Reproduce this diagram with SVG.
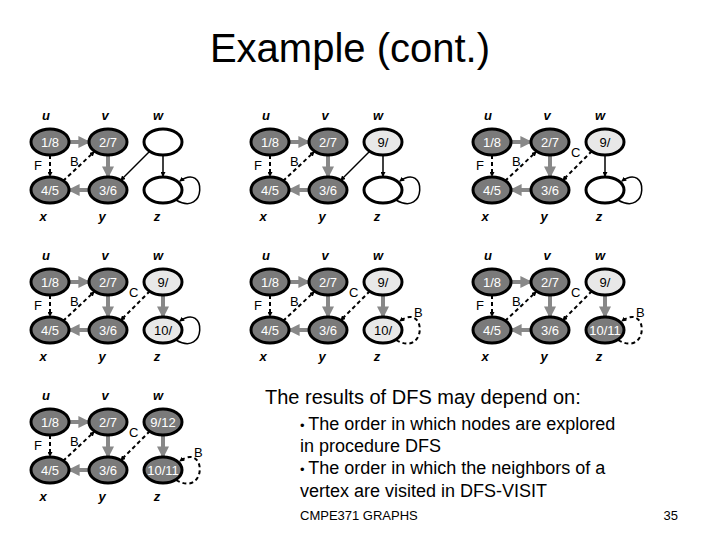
<svg xmlns="http://www.w3.org/2000/svg" width="720" height="540" viewBox="0 0 720 540">
<style>
.n{stroke:#000;stroke-width:3}
.d{fill:#7a7a7a}.l{fill:#e8e8e8}.e{fill:#fff}
.t{font-family:"Liberation Sans",Arial,sans-serif;font-size:13px;text-anchor:middle}
.tw{fill:#fff}.tb{fill:#000}
.vl{font-family:"Liberation Sans",Arial,sans-serif;font-size:13px;font-style:italic;font-weight:bold;text-anchor:middle}
.el{font-family:"Liberation Sans",Arial,sans-serif;font-size:13px}
.g{stroke:#888;stroke-width:4;fill:none;marker-end:url(#ag)}
.k{stroke:#000;stroke-width:1.5;fill:none;marker-end:url(#ak)}
.ds{stroke:#000;stroke-width:2;stroke-dasharray:4,3;fill:none;marker-end:url(#ak)}
</style>
<defs>
<marker id="ag" viewBox="0 0 10 10" refX="8" refY="5" markerWidth="3" markerHeight="3" orient="auto"><path d="M0,0L10,5L0,10z" fill="#888"/></marker>
<marker id="ak" viewBox="0 0 10 10" refX="8" refY="5" markerWidth="5" markerHeight="5" orient="auto" markerUnits="userSpaceOnUse"><path d="M0,0L10,5L0,10z" fill="#000"/></marker>
</defs>
<rect width="720" height="540" fill="#fff"/>
<text x="350" y="62" font-family="Liberation Sans,Arial,sans-serif" font-size="40" text-anchor="middle">Example (cont.)</text>

<g id="panel1">
<g id="p1-edges">
<line class="g" x1="69" y1="142" x2="88" y2="142"/>
<line class="g" x1="108" y1="155" x2="108" y2="176"/>
<line class="g" x1="89" y1="190" x2="70" y2="190"/>
<line class="ds" x1="50" y1="155" x2="50" y2="176"/><text class="el" x="34" y="170">F</text>
<line class="ds" x1="63" y1="181" x2="94" y2="152"/><text class="el" x="70" y="166">B</text>
<line class="k" x1="150" y1="151" x2="121" y2="180"/>
<line class="k" x1="163" y1="155" x2="163" y2="176"/>
<path class="k" d="M176,200 C207,218 207,162 180,181"/>
</g>
<g id="p1-u"><ellipse class="n d" cx="50" cy="142" rx="19" ry="13"/><text class="t tw" x="50" y="147">1/8</text><text class="vl" x="46" y="120">u</text></g>
<g id="p1-v"><ellipse class="n d" cx="108" cy="142" rx="19" ry="13"/><text class="t tw" x="108" y="147">2/7</text><text class="vl" x="105" y="120">v</text></g>
<g id="p1-w"><ellipse class="n e" cx="163" cy="142" rx="19" ry="13"/><text class="vl" x="158" y="120">w</text></g>
<g id="p1-x"><ellipse class="n d" cx="50" cy="190" rx="19" ry="13"/><text class="t tw" x="50" y="195">4/5</text><text class="vl" x="43" y="221">x</text></g>
<g id="p1-y"><ellipse class="n d" cx="108" cy="190" rx="19" ry="13"/><text class="t tw" x="108" y="195">3/6</text><text class="vl" x="102" y="221">y</text></g>
<g id="p1-z"><ellipse class="n e" cx="163" cy="190" rx="19" ry="13"/><text class="vl" x="157" y="221">z</text></g>
</g>

<g id="panel2" transform="translate(220,0)">
<g id="p2-edges">
<line class="g" x1="69" y1="142" x2="88" y2="142"/>
<line class="g" x1="108" y1="155" x2="108" y2="176"/>
<line class="g" x1="89" y1="190" x2="70" y2="190"/>
<line class="ds" x1="50" y1="155" x2="50" y2="176"/><text class="el" x="34" y="170">F</text>
<line class="ds" x1="63" y1="181" x2="94" y2="152"/><text class="el" x="70" y="166">B</text>
<line class="k" x1="150" y1="151" x2="121" y2="180"/>
<line class="k" x1="163" y1="155" x2="163" y2="176"/>
<path class="k" d="M176,200 C207,218 207,162 180,181"/>
</g>
<g id="p2-u"><ellipse class="n d" cx="50" cy="142" rx="19" ry="13"/><text class="t tw" x="50" y="147">1/8</text><text class="vl" x="46" y="120">u</text></g>
<g id="p2-v"><ellipse class="n d" cx="108" cy="142" rx="19" ry="13"/><text class="t tw" x="108" y="147">2/7</text><text class="vl" x="105" y="120">v</text></g>
<g id="p2-w"><ellipse class="n l" cx="163" cy="142" rx="19" ry="13"/><text class="t tb" x="163" y="147">9/</text><text class="vl" x="158" y="120">w</text></g>
<g id="p2-x"><ellipse class="n d" cx="50" cy="190" rx="19" ry="13"/><text class="t tw" x="50" y="195">4/5</text><text class="vl" x="43" y="221">x</text></g>
<g id="p2-y"><ellipse class="n d" cx="108" cy="190" rx="19" ry="13"/><text class="t tw" x="108" y="195">3/6</text><text class="vl" x="102" y="221">y</text></g>
<g id="p2-z"><ellipse class="n e" cx="163" cy="190" rx="19" ry="13"/><text class="vl" x="157" y="221">z</text></g>
</g>

<g id="panel3" transform="translate(442,0)">
<g id="p3-edges">
<line class="g" x1="69" y1="142" x2="88" y2="142"/>
<line class="g" x1="108" y1="155" x2="108" y2="176"/>
<line class="g" x1="89" y1="190" x2="70" y2="190"/>
<line class="ds" x1="50" y1="155" x2="50" y2="176"/><text class="el" x="34" y="170">F</text>
<line class="ds" x1="63" y1="181" x2="94" y2="152"/><text class="el" x="70" y="166">B</text>
<line class="ds" x1="150" y1="151" x2="121" y2="180"/><text class="el" x="129" y="157">C</text>
<line class="k" x1="163" y1="155" x2="163" y2="176"/>
<path class="k" d="M176,200 C207,218 207,162 180,181"/>
</g>
<g id="p3-u"><ellipse class="n d" cx="50" cy="142" rx="19" ry="13"/><text class="t tw" x="50" y="147">1/8</text><text class="vl" x="46" y="120">u</text></g>
<g id="p3-v"><ellipse class="n d" cx="108" cy="142" rx="19" ry="13"/><text class="t tw" x="108" y="147">2/7</text><text class="vl" x="105" y="120">v</text></g>
<g id="p3-w"><ellipse class="n l" cx="163" cy="142" rx="19" ry="13"/><text class="t tb" x="163" y="147">9/</text><text class="vl" x="158" y="120">w</text></g>
<g id="p3-x"><ellipse class="n d" cx="50" cy="190" rx="19" ry="13"/><text class="t tw" x="50" y="195">4/5</text><text class="vl" x="43" y="221">x</text></g>
<g id="p3-y"><ellipse class="n d" cx="108" cy="190" rx="19" ry="13"/><text class="t tw" x="108" y="195">3/6</text><text class="vl" x="102" y="221">y</text></g>
<g id="p3-z"><ellipse class="n e" cx="163" cy="190" rx="19" ry="13"/><text class="vl" x="157" y="221">z</text></g>
</g>

<g id="panel4" transform="translate(0,140)">
<g id="p4-edges">
<line class="g" x1="69" y1="142" x2="88" y2="142"/>
<line class="g" x1="108" y1="155" x2="108" y2="176"/>
<line class="g" x1="89" y1="190" x2="70" y2="190"/>
<line class="ds" x1="50" y1="155" x2="50" y2="176"/><text class="el" x="34" y="170">F</text>
<line class="ds" x1="63" y1="181" x2="94" y2="152"/><text class="el" x="70" y="166">B</text>
<line class="ds" x1="150" y1="151" x2="121" y2="180"/><text class="el" x="129" y="157">C</text>
<line class="g" x1="163" y1="155" x2="163" y2="176"/>
<path class="k" d="M176,200 C207,218 207,162 180,181"/>
</g>
<g id="p4-u"><ellipse class="n d" cx="50" cy="142" rx="19" ry="13"/><text class="t tw" x="50" y="147">1/8</text><text class="vl" x="46" y="120">u</text></g>
<g id="p4-v"><ellipse class="n d" cx="108" cy="142" rx="19" ry="13"/><text class="t tw" x="108" y="147">2/7</text><text class="vl" x="105" y="120">v</text></g>
<g id="p4-w"><ellipse class="n l" cx="163" cy="142" rx="19" ry="13"/><text class="t tb" x="163" y="147">9/</text><text class="vl" x="158" y="120">w</text></g>
<g id="p4-x"><ellipse class="n d" cx="50" cy="190" rx="19" ry="13"/><text class="t tw" x="50" y="195">4/5</text><text class="vl" x="43" y="221">x</text></g>
<g id="p4-y"><ellipse class="n d" cx="108" cy="190" rx="19" ry="13"/><text class="t tw" x="108" y="195">3/6</text><text class="vl" x="102" y="221">y</text></g>
<g id="p4-z"><ellipse class="n l" cx="163" cy="190" rx="19" ry="13"/><text class="t tb" x="163" y="195">10/</text><text class="vl" x="157" y="221">z</text></g>
</g>

<g id="panel5" transform="translate(220,140)">
<g id="p5-edges">
<line class="g" x1="69" y1="142" x2="88" y2="142"/>
<line class="g" x1="108" y1="155" x2="108" y2="176"/>
<line class="g" x1="89" y1="190" x2="70" y2="190"/>
<line class="ds" x1="50" y1="155" x2="50" y2="176"/><text class="el" x="34" y="170">F</text>
<line class="ds" x1="63" y1="181" x2="94" y2="152"/><text class="el" x="70" y="166">B</text>
<line class="ds" x1="150" y1="151" x2="121" y2="180"/><text class="el" x="129" y="157">C</text>
<line class="g" x1="163" y1="155" x2="163" y2="176"/>
<path class="ds" d="M176,200 C207,218 207,162 180,181"/><text class="el" x="194" y="177">B</text>
</g>
<g id="p5-u"><ellipse class="n d" cx="50" cy="142" rx="19" ry="13"/><text class="t tw" x="50" y="147">1/8</text><text class="vl" x="46" y="120">u</text></g>
<g id="p5-v"><ellipse class="n d" cx="108" cy="142" rx="19" ry="13"/><text class="t tw" x="108" y="147">2/7</text><text class="vl" x="105" y="120">v</text></g>
<g id="p5-w"><ellipse class="n l" cx="163" cy="142" rx="19" ry="13"/><text class="t tb" x="163" y="147">9/</text><text class="vl" x="158" y="120">w</text></g>
<g id="p5-x"><ellipse class="n d" cx="50" cy="190" rx="19" ry="13"/><text class="t tw" x="50" y="195">4/5</text><text class="vl" x="43" y="221">x</text></g>
<g id="p5-y"><ellipse class="n d" cx="108" cy="190" rx="19" ry="13"/><text class="t tw" x="108" y="195">3/6</text><text class="vl" x="102" y="221">y</text></g>
<g id="p5-z"><ellipse class="n l" cx="163" cy="190" rx="19" ry="13"/><text class="t tb" x="163" y="195">10/</text><text class="vl" x="157" y="221">z</text></g>
</g>

<g id="panel6" transform="translate(442,140)">
<g id="p6-edges">
<line class="g" x1="69" y1="142" x2="88" y2="142"/>
<line class="g" x1="108" y1="155" x2="108" y2="176"/>
<line class="g" x1="89" y1="190" x2="70" y2="190"/>
<line class="ds" x1="50" y1="155" x2="50" y2="176"/><text class="el" x="34" y="170">F</text>
<line class="ds" x1="63" y1="181" x2="94" y2="152"/><text class="el" x="70" y="166">B</text>
<line class="ds" x1="150" y1="151" x2="121" y2="180"/><text class="el" x="129" y="157">C</text>
<line class="g" x1="163" y1="155" x2="163" y2="176"/>
<path class="ds" d="M176,200 C207,218 207,162 180,181"/><text class="el" x="194" y="177">B</text>
</g>
<g id="p6-u"><ellipse class="n d" cx="50" cy="142" rx="19" ry="13"/><text class="t tw" x="50" y="147">1/8</text><text class="vl" x="46" y="120">u</text></g>
<g id="p6-v"><ellipse class="n d" cx="108" cy="142" rx="19" ry="13"/><text class="t tw" x="108" y="147">2/7</text><text class="vl" x="105" y="120">v</text></g>
<g id="p6-w"><ellipse class="n l" cx="163" cy="142" rx="19" ry="13"/><text class="t tb" x="163" y="147">9/</text><text class="vl" x="158" y="120">w</text></g>
<g id="p6-x"><ellipse class="n d" cx="50" cy="190" rx="19" ry="13"/><text class="t tw" x="50" y="195">4/5</text><text class="vl" x="43" y="221">x</text></g>
<g id="p6-y"><ellipse class="n d" cx="108" cy="190" rx="19" ry="13"/><text class="t tw" x="108" y="195">3/6</text><text class="vl" x="102" y="221">y</text></g>
<g id="p6-z"><ellipse class="n d" cx="163" cy="190" rx="19" ry="13"/><text class="t tw" x="163" y="195">10/11</text><text class="vl" x="157" y="221">z</text></g>
</g>

<g id="panel7" transform="translate(0,280)">
<g id="p7-edges">
<line class="g" x1="69" y1="142" x2="88" y2="142"/>
<line class="g" x1="108" y1="155" x2="108" y2="176"/>
<line class="g" x1="89" y1="190" x2="70" y2="190"/>
<line class="ds" x1="50" y1="155" x2="50" y2="176"/><text class="el" x="34" y="170">F</text>
<line class="ds" x1="63" y1="181" x2="94" y2="152"/><text class="el" x="70" y="166">B</text>
<line class="ds" x1="150" y1="151" x2="121" y2="180"/><text class="el" x="129" y="157">C</text>
<line class="g" x1="163" y1="155" x2="163" y2="176"/>
<path class="ds" d="M176,200 C207,218 207,162 180,181"/><text class="el" x="194" y="177">B</text>
</g>
<g id="p7-u"><ellipse class="n d" cx="50" cy="142" rx="19" ry="13"/><text class="t tw" x="50" y="147">1/8</text><text class="vl" x="46" y="120">u</text></g>
<g id="p7-v"><ellipse class="n d" cx="108" cy="142" rx="19" ry="13"/><text class="t tw" x="108" y="147">2/7</text><text class="vl" x="105" y="120">v</text></g>
<g id="p7-w"><ellipse class="n d" cx="163" cy="142" rx="19" ry="13"/><text class="t tw" x="163" y="147">9/12</text><text class="vl" x="158" y="120">w</text></g>
<g id="p7-x"><ellipse class="n d" cx="50" cy="190" rx="19" ry="13"/><text class="t tw" x="50" y="195">4/5</text><text class="vl" x="43" y="221">x</text></g>
<g id="p7-y"><ellipse class="n d" cx="108" cy="190" rx="19" ry="13"/><text class="t tw" x="108" y="195">3/6</text><text class="vl" x="102" y="221">y</text></g>
<g id="p7-z"><ellipse class="n d" cx="163" cy="190" rx="19" ry="13"/><text class="t tw" x="163" y="195">10/11</text><text class="vl" x="157" y="221">z</text></g>
</g>

<g font-family="Liberation Sans,Arial,sans-serif">
<text x="265" y="404" font-size="20">The results of DFS may depend on:</text>
<text x="300" y="430" font-size="18"><tspan font-size="13">• </tspan>The order in which nodes are explored</text>
<text x="300" y="452" font-size="18">in procedure DFS</text>
<text x="300" y="474" font-size="18"><tspan font-size="13">• </tspan>The order in which the neighbors of a</text>
<text x="300" y="497" font-size="18">vertex are visited in DFS-VISIT</text>
<text x="300" y="520" font-size="13">CMPE371 GRAPHS</text>
<text x="678" y="520" font-size="13" text-anchor="end">35</text>
</g>
</svg>
